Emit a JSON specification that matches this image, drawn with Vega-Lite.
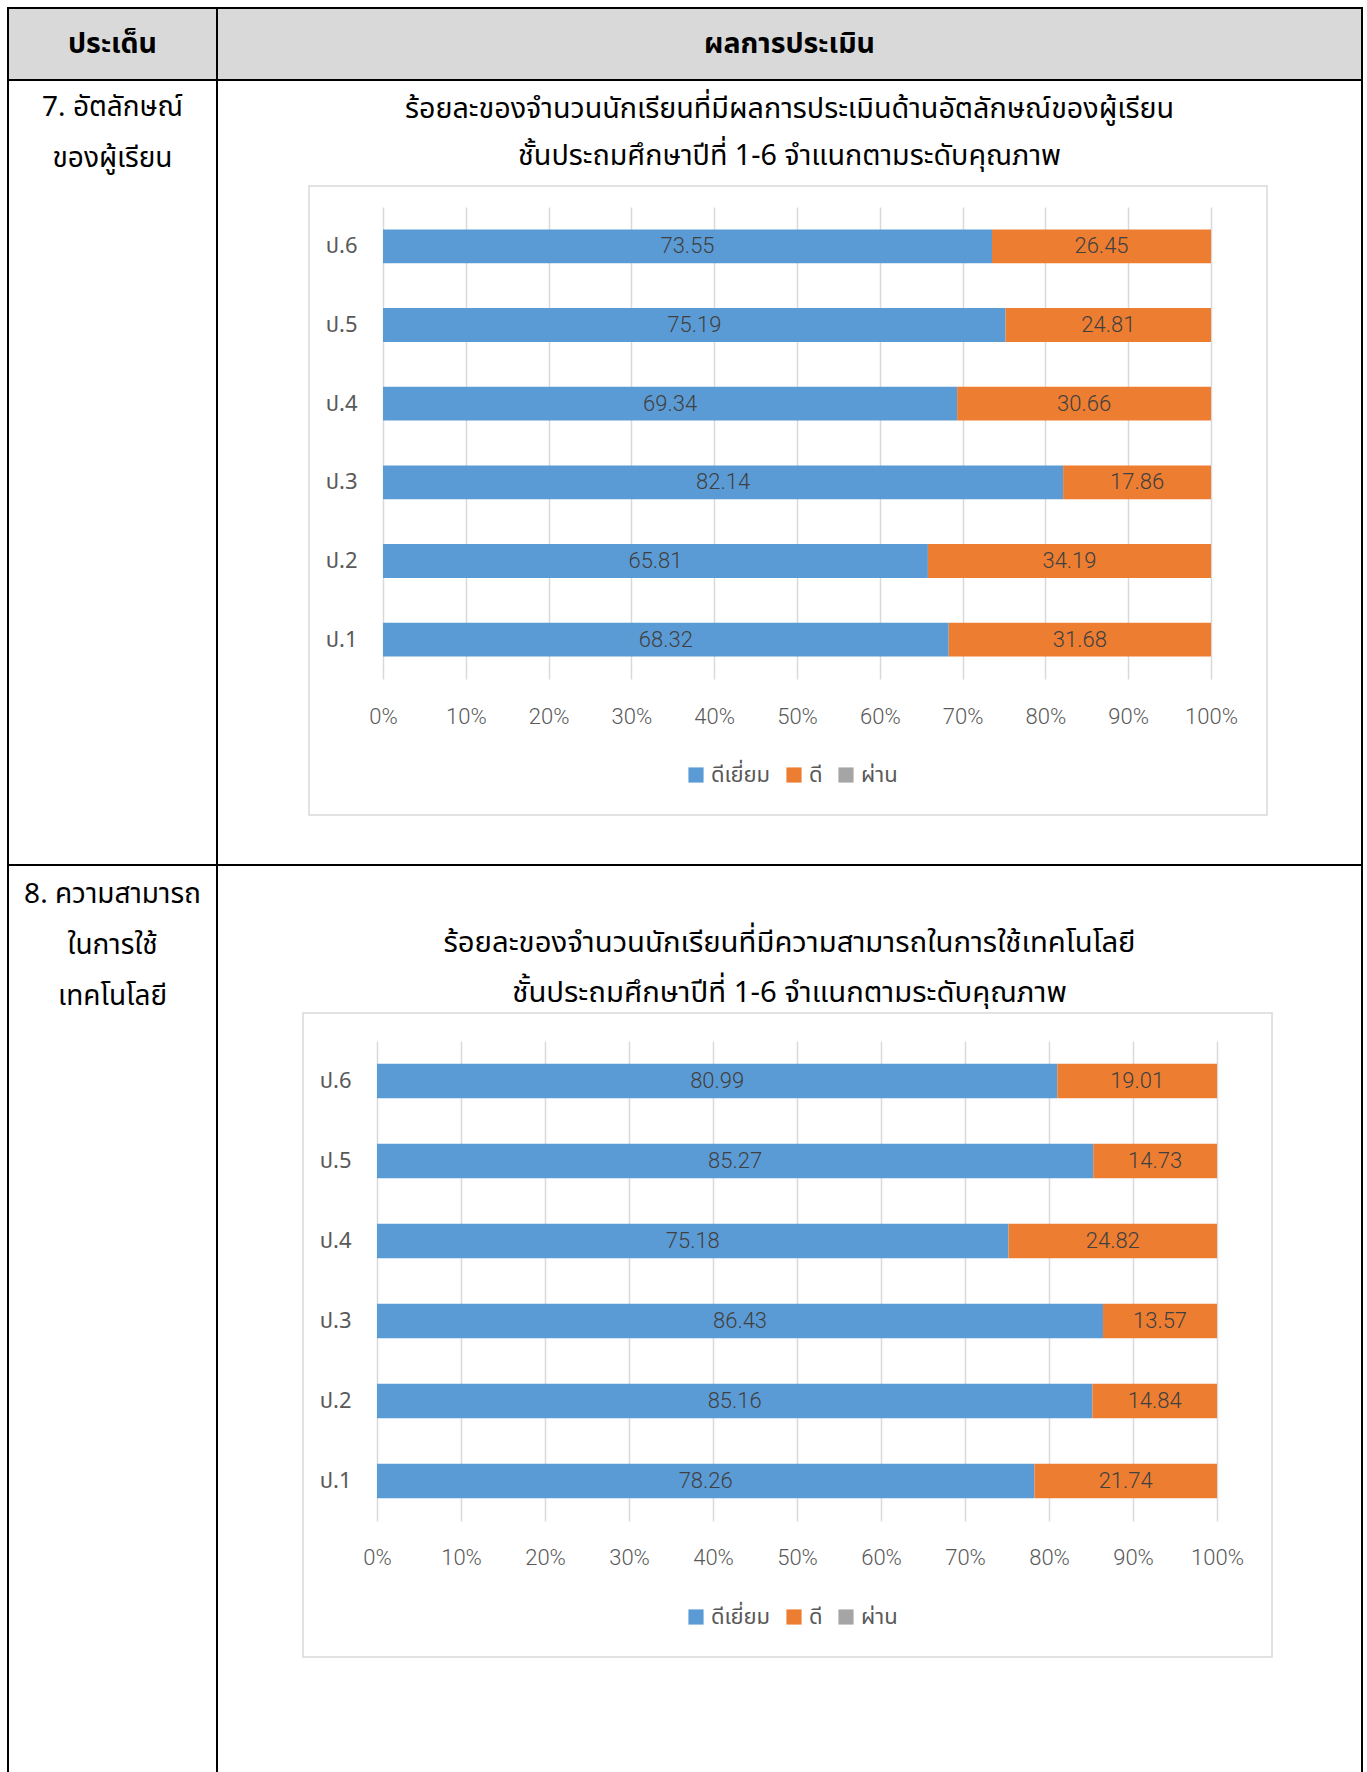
{
  "$schema": "https://vega.github.io/schema/vega-lite/v6.json",
  "padding": {"left": 7, "top": 7, "right": 6, "bottom": 0},
  "bounds": "flush",
  "spacing": 0,
  "columns": 2,
  "resolve": {"scale": {"color": "independent"}, "legend": {"color": "independent"}},
  "concat": [
    {
      "width": 209, "height": 72,
      "view": {"fill": "#d9d9d9", "stroke": "black", "strokeWidth": 2},
      "data": {"values": [{"h": "ประเด็น"}]},
      "mark": {"type": "text", "fontSize": 28.5, "fontWeight": "bold", "color": "black"},
      "encoding": {"text": {"field": "h"}}
    },
    {
      "width": 1145, "height": 72,
      "view": {"fill": "#d9d9d9", "stroke": "black", "strokeWidth": 2},
      "data": {"values": [{"h": "ผลการประเมิน"}]},
      "mark": {"type": "text", "fontSize": 28.5, "fontWeight": "bold", "color": "black"},
      "encoding": {"text": {"field": "h"}}
    },
    {
      "width": 209, "height": 785,
      "view": {"fill": "white", "stroke": "black", "strokeWidth": 2},
      "title": {"text": ["7. อัตลักษณ์", "ของผู้เรียน"], "offset": -93, "fontSize": 28, "fontWeight": "normal", "lineHeight": 51, "color": "black", "anchor": "middle"},
      "data": {"values": [{"t": ""}]},
      "mark": {"type": "text"},
      "encoding": {"text": {"field": "t"}}
    },
    {
      "width": 1145, "height": 785,
      "view": {"fill": "white", "stroke": "black", "strokeWidth": 2},
      "title": {"text": ["ร้อยละของจำนวนนักเรียนที่มีผลการประเมินด้านอัตลักษณ์ของผู้เรียน", "ชั้นประถมศึกษาปีที่ 1-6 จำแนกตามระดับคุณภาพ"], "offset": -91, "fontSize": 28.7, "fontWeight": "normal", "lineHeight": 47.5, "color": "black", "anchor": "middle"},
      "layer": [
        {
          "data": {"values": [{}]},
          "mark": {"type": "rect", "fillOpacity": 0, "stroke": "#d9d9d9", "strokeWidth": 1.5},
          "encoding": {
            "x": {"datum": -0.0894, "type": "quantitative", "scale": {"domain": [0, 1], "range": [166, 994]},
              "axis": {"title": null, "format": "%", "values": [0, 0.1, 0.2, 0.3, 0.4, 0.5, 0.6, 0.7, 0.8, 0.9, 1], "grid": true, "gridColor": "#d9d9d9", "gridWidth": 1.5, "domain": false, "ticks": false, "labelPadding": 0, "labelFlush": false, "labelOverlap": false, "offset": -159, "labelFontSize": 22, "labelColor": "#595959", "labelFont": "Roboto", "labelFontWeight": 300}},
            "x2": {"datum": 1.0676},
            "y": {"datum": -0.1631, "type": "quantitative", "scale": {"domain": [0, 1], "range": [658, 186]}, "axis": null},
            "y2": {"datum": 1.1695}
          }
        },
        {
          "data": {"values": [
            {"grade": "ป.6", "level": "ดีเยี่ยม", "value": 73.55},
            {"grade": "ป.6", "level": "ดี", "value": 26.45},
            {"grade": "ป.5", "level": "ดีเยี่ยม", "value": 75.19},
            {"grade": "ป.5", "level": "ดี", "value": 24.81},
            {"grade": "ป.4", "level": "ดีเยี่ยม", "value": 69.34},
            {"grade": "ป.4", "level": "ดี", "value": 30.66},
            {"grade": "ป.3", "level": "ดีเยี่ยม", "value": 82.14},
            {"grade": "ป.3", "level": "ดี", "value": 17.86},
            {"grade": "ป.2", "level": "ดีเยี่ยม", "value": 65.81},
            {"grade": "ป.2", "level": "ดี", "value": 34.19},
            {"grade": "ป.1", "level": "ดีเยี่ยม", "value": 68.32},
            {"grade": "ป.1", "level": "ดี", "value": 31.68}
          ]},
          "encoding": {
            "y": {"field": "grade", "type": "nominal", "scale": {"domain": ["ป.6", "ป.5", "ป.4", "ป.3", "ป.2", "ป.1"], "range": [127, 599], "paddingInner": 0.57, "paddingOuter": 0.285},
              "axis": {"title": null, "domain": false, "ticks": false, "grid": false, "labelPadding": 0, "offset": -140, "labelFontSize": 22, "labelColor": "#595959"}},
            "order": {"field": "level", "sort": "descending"}
          },
          "layer": [
            {
              "mark": {"type": "bar"},
              "encoding": {
                "x": {"field": "value", "type": "quantitative", "stack": "normalize", "scale": {"domain": [0, 1], "range": [166, 994]},
                  "axis": {"title": null, "format": "%", "values": [0, 0.1, 0.2, 0.3, 0.4, 0.5, 0.6, 0.7, 0.8, 0.9, 1], "grid": true, "gridColor": "#d9d9d9", "gridWidth": 1.5, "domain": false, "ticks": false, "labelPadding": 0, "labelFlush": false, "labelOverlap": false, "offset": -159, "labelFontSize": 22, "labelColor": "#595959", "labelFont": "Roboto", "labelFontWeight": 300}},
                "color": {"field": "level", "type": "nominal", "scale": {"domain": ["ดีเยี่ยม", "ดี", "ผ่าน"], "range": ["#5b9bd5", "#ed7d31", "#a5a5a5"]},
                  "legend": {"orient": "none", "legendX": 468, "legendY": 684, "direction": "horizontal", "title": null, "symbolType": "square", "symbolSize": 230, "symbolStrokeWidth": 0, "labelFontSize": 22, "labelColor": "#595959", "columnPadding": 12}}
              }
            },
            {
              "mark": {"type": "text", "fontSize": 22, "color": "#404040", "font": "Roboto", "fontWeight": 300},
              "encoding": {
                "x": {"field": "value", "type": "quantitative", "stack": "normalize", "bandPosition": 0.5, "scale": {"domain": [0, 1], "range": [166, 994]}},
                "detail": {"field": "level"},
                "text": {"field": "value", "type": "quantitative", "format": ".2f"}
              }
            }
          ]
        }
      ],
      "resolve": {"scale": {"y": "independent"}}
    },
    {
      "width": 209, "height": 910,
      "view": {"fill": "white", "stroke": "black", "strokeWidth": 2},
      "title": {"text": ["8. ความสามารถ", "ในการใช้", "เทคโนโลยี"], "offset": -146, "fontSize": 28, "fontWeight": "normal", "lineHeight": 51, "color": "black", "anchor": "middle"},
      "data": {"values": [{"t": ""}]},
      "mark": {"type": "text"},
      "encoding": {"text": {"field": "t"}}
    },
    {
      "width": 1145, "height": 910,
      "view": {"fill": "white", "stroke": "black", "strokeWidth": 2},
      "title": {"text": ["ร้อยละของจำนวนนักเรียนที่มีความสามารถในการใช้เทคโนโลยี", "ชั้นประถมศึกษาปีที่ 1-6  จำแนกตามระดับคุณภาพ"], "offset": -143, "fontSize": 29.3, "fontWeight": "normal", "lineHeight": 50, "color": "black", "anchor": "middle"},
      "layer": [
        {
          "data": {"values": [{}]},
          "mark": {"type": "rect", "fillOpacity": 0, "stroke": "#d9d9d9", "strokeWidth": 1.5},
          "encoding": {
            "x": {"datum": -0.0881, "type": "quantitative", "scale": {"domain": [0, 1], "range": [160, 1000]},
              "axis": {"title": null, "format": "%", "values": [0, 0.1, 0.2, 0.3, 0.4, 0.5, 0.6, 0.7, 0.8, 0.9, 1], "grid": true, "gridColor": "#d9d9d9", "gridWidth": 1.5, "domain": false, "ticks": false, "labelPadding": 0, "labelFlush": false, "labelOverlap": false, "offset": -228, "labelFontSize": 22, "labelColor": "#595959", "labelFont": "Roboto", "labelFontWeight": 300}},
            "x2": {"datum": 1.0655},
            "y": {"datum": -0.1208, "type": "quantitative", "scale": {"domain": [0, 1], "range": [734, 254]}, "axis": null},
            "y2": {"datum": 1.2208}
          }
        },
        {
          "data": {"values": [
            {"grade": "ป.6", "level": "ดีเยี่ยม", "value": 80.99},
            {"grade": "ป.6", "level": "ดี", "value": 19.01},
            {"grade": "ป.5", "level": "ดีเยี่ยม", "value": 85.27},
            {"grade": "ป.5", "level": "ดี", "value": 14.73},
            {"grade": "ป.4", "level": "ดีเยี่ยม", "value": 75.18},
            {"grade": "ป.4", "level": "ดี", "value": 24.82},
            {"grade": "ป.3", "level": "ดีเยี่ยม", "value": 86.43},
            {"grade": "ป.3", "level": "ดี", "value": 13.57},
            {"grade": "ป.2", "level": "ดีเยี่ยม", "value": 85.16},
            {"grade": "ป.2", "level": "ดี", "value": 14.84},
            {"grade": "ป.1", "level": "ดีเยี่ยม", "value": 78.26},
            {"grade": "ป.1", "level": "ดี", "value": 21.74}
          ]},
          "encoding": {
            "y": {"field": "grade", "type": "nominal", "scale": {"domain": ["ป.6", "ป.5", "ป.4", "ป.3", "ป.2", "ป.1"], "range": [176, 656], "paddingInner": 0.57, "paddingOuter": 0.285},
              "axis": {"title": null, "domain": false, "ticks": false, "grid": false, "labelPadding": 0, "offset": -134, "labelFontSize": 22, "labelColor": "#595959"}},
            "order": {"field": "level", "sort": "descending"}
          },
          "layer": [
            {
              "mark": {"type": "bar"},
              "encoding": {
                "x": {"field": "value", "type": "quantitative", "stack": "normalize", "scale": {"domain": [0, 1], "range": [160, 1000]},
                  "axis": {"title": null, "format": "%", "values": [0, 0.1, 0.2, 0.3, 0.4, 0.5, 0.6, 0.7, 0.8, 0.9, 1], "grid": true, "gridColor": "#d9d9d9", "gridWidth": 1.5, "domain": false, "ticks": false, "labelPadding": 0, "labelFlush": false, "labelOverlap": false, "offset": -228, "labelFontSize": 22, "labelColor": "#595959", "labelFont": "Roboto", "labelFontWeight": 300}},
                "color": {"field": "level", "type": "nominal", "scale": {"domain": ["ดีเยี่ยม", "ดี", "ผ่าน"], "range": ["#5b9bd5", "#ed7d31", "#a5a5a5"]},
                  "legend": {"orient": "none", "legendX": 468, "legendY": 741, "direction": "horizontal", "title": null, "symbolType": "square", "symbolSize": 230, "symbolStrokeWidth": 0, "labelFontSize": 22, "labelColor": "#595959", "columnPadding": 12}}
              }
            },
            {
              "mark": {"type": "text", "fontSize": 22, "color": "#404040", "font": "Roboto", "fontWeight": 300},
              "encoding": {
                "x": {"field": "value", "type": "quantitative", "stack": "normalize", "bandPosition": 0.5, "scale": {"domain": [0, 1], "range": [160, 1000]}},
                "detail": {"field": "level"},
                "text": {"field": "value", "type": "quantitative", "format": ".2f"}
              }
            }
          ]
        }
      ],
      "resolve": {"scale": {"y": "independent"}}
    }
  ],
  "config": {
    "view": {"stroke": "black", "strokeWidth": 2},
    "font": "Noto Sans Thai, Noto Sans, sans-serif",
    "axis": {"labelFont": "Noto Sans Thai, Noto Sans, sans-serif"},
    "legend": {"labelFont": "Noto Sans Thai, Noto Sans, sans-serif"}
  }
}
